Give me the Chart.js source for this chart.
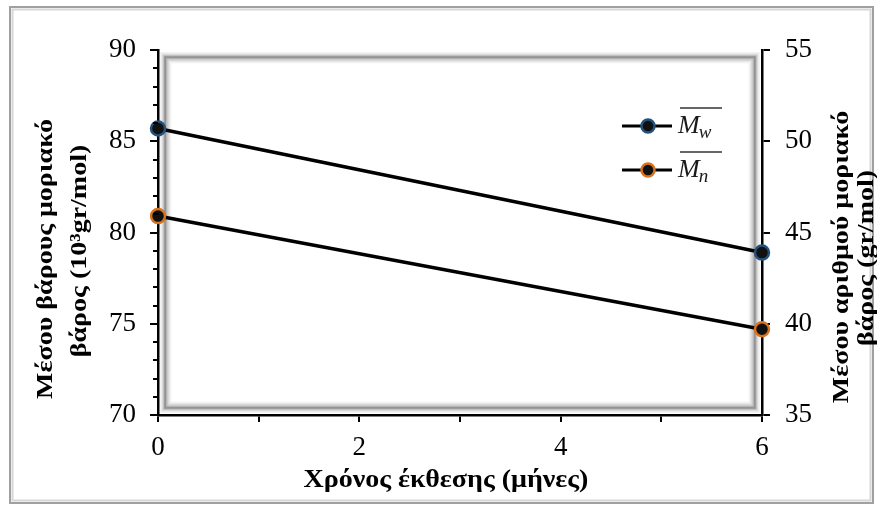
<!DOCTYPE html>
<html>
<head>
<meta charset="utf-8">
<script src="https://cdn.jsdelivr.net/npm/chart.js@4"></script>
<style>
  body { margin: 0; background: #fff; }
  #wrap { width: 877px; height: 508px; }
</style>
</head>
<body>
<div id="wrap"><canvas id="mainChart" width="877" height="508"></canvas></div>
<script>
// data
const months = [0, 6];
const mwValues = [85.7, 78.9];   // left axis, 10^3 gr/mol
const mnValues = [45.9, 39.7];   // right axis, gr/mol
const leftRange = [70, 90];
const rightRange = [35, 55];
const xTitle = 'Χρόνος έκθεσης (μήνες)';
const leftTitle = ['Μέσου βάρους μοριακό', 'βάρος (10³gr/mol)'];
const rightTitle = ['Μέσου αριθμού μοριακό', 'βάρος (gr/mol)'];
const seriesNames = [['M', 'w'], ['M', 'n']];

const serif = "'Liberation Serif', 'Times New Roman', serif";
Chart.defaults.font.family = serif;
Chart.defaults.color = '#000';

const blue = '#24527f';
const orange = '#d7731c';

// frame around the whole picture and the bevel of the plot area
const framePlugin = {
  id: 'frames',
  beforeDraw(chart) {
    const ctx = chart.ctx;
    ctx.save();
    ctx.fillStyle = '#fff';
    ctx.fillRect(0, 0, chart.width, chart.height);
    ctx.lineWidth = 2;
    ctx.strokeStyle = '#a0a0a0';
    ctx.strokeRect(10, 7, 863, 496);
    ctx.lineWidth = 2;
    ctx.strokeStyle = '#d6d6d6';
    ctx.strokeRect(12.5, 9.5, 858, 491);
    ctx.restore();
  },
  beforeDatasetsDraw(chart) {
    const a = chart.chartArea;
    const ctx = chart.ctx;
    const shades = ['#f0f0f0', '#e2e2e2', '#c8c8c8', '#9d9d9d', '#8f8f8f', '#b0b0b0', '#cfcfcf', '#e4e4e4', '#f2f2f2'];
    ctx.save();
    ctx.lineWidth = 1.5;
    shades.forEach((c, i) => {
      const d = 3 + i * 1.2;
      ctx.strokeStyle = c;
      ctx.strokeRect(a.left + d, a.top + d, a.right - a.left - 2 * d, a.bottom - a.top - 2 * d);
    });
    ctx.restore();
  }
};

// minor ticks, axis titles and legend
const extrasPlugin = {
  id: 'extras',
  afterDraw(chart) {
    const ctx = chart.ctx;
    const y = chart.scales.y;
    const x = chart.scales.x;
    ctx.save();
    ctx.strokeStyle = '#000';
    ctx.lineWidth = 2;
    for (let v = leftRange[0] + 1; v < leftRange[1]; v++) {
      if (v % 5 === 0) continue;
      const py = Math.round(y.getPixelForValue(v));
      ctx.beginPath();
      ctx.moveTo(x.left - 5, py);
      ctx.lineTo(x.left, py);
      ctx.stroke();
    }

    ctx.fillStyle = '#000';
    ctx.font = 'bold 28px ' + serif;
    ctx.textAlign = 'center';
    ctx.textBaseline = 'middle';
    ctx.save();
    ctx.translate(446, 481);
    ctx.scale(1, 0.88);
    ctx.fillText(xTitle, 0, 0);
    ctx.restore();

    // rotated titles, glyphs a bit flattened like the original picture
    const drawVertical = (lines, xs, ys) => {
      lines.forEach((t, i) => {
        ctx.save();
        ctx.translate(xs[i], ys[i]);
        ctx.rotate(-Math.PI / 2);
        ctx.scale(1, 0.8);
        ctx.fillText(t, 0, 0);
        ctx.restore();
      });
    };
    drawVertical(leftTitle, [46, 80], [259, 251]);
    drawVertical(rightTitle, [842, 867], [257, 258]);

    // legend
    const rows = [[126, blue], [170, orange]];
    rows.forEach(([ly, col], i) => {
      ctx.strokeStyle = '#000';
      ctx.lineWidth = 3;
      ctx.beginPath();
      ctx.moveTo(622, ly);
      ctx.lineTo(672, ly);
      ctx.stroke();
      ctx.beginPath();
      ctx.arc(648, ly, 6.5, 0, Math.PI * 2);
      ctx.fillStyle = '#111';
      ctx.fill();
      ctx.lineWidth = 2.5;
      ctx.strokeStyle = col;
      ctx.stroke();

      ctx.fillStyle = '#1a1a1a';
      ctx.textAlign = 'left';
      ctx.textBaseline = 'alphabetic';
      ctx.font = 'italic 26px ' + serif;
      ctx.fillText(seriesNames[i][0], 678, ly + 7);
      const mw = ctx.measureText(seriesNames[i][0]).width;
      ctx.font = 'italic 19px ' + serif;
      ctx.fillText(seriesNames[i][1], 678 + mw - 1, ly + 12);
      ctx.strokeStyle = '#333';
      ctx.lineWidth = 1.5;
      ctx.beginPath();
      ctx.moveTo(680, ly - 18);
      ctx.lineTo(722, ly - 18);
      ctx.stroke();
    });
    ctx.restore();
  }
};

const toPoints = vals => vals.map((v, i) => ({ x: months[i], y: v }));

const axisGrid = len => ({ drawOnChartArea: false, tickLength: len, color: '#000', lineWidth: 2 });
const axisBorder = { color: '#000', width: 2.5 };
const tickFont = { size: 27, family: serif };

new Chart(document.getElementById('mainChart').getContext('2d'), {
  type: 'line',
  data: {
    datasets: [
      {
        label: 'Mw',
        data: toPoints(mwValues),
        yAxisID: 'y',
        borderColor: '#000',
        borderWidth: 3.5,
        pointRadius: 7,
        pointBorderWidth: 2.5,
        pointBackgroundColor: '#111',
        pointBorderColor: blue,
        clip: false
      },
      {
        label: 'Mn',
        data: toPoints(mnValues),
        yAxisID: 'y1',
        borderColor: '#000',
        borderWidth: 3.5,
        pointRadius: 7,
        pointBorderWidth: 2.5,
        pointBackgroundColor: '#111',
        pointBorderColor: orange,
        clip: false
      }
    ]
  },
  options: {
    responsive: false,
    animation: false,
    layout: { padding: { top: 50, left: 0, right: 0, bottom: 0 } },
    plugins: { legend: { display: false }, tooltip: { enabled: false } },
    scales: {
      x: {
        type: 'linear',
        min: months[0],
        max: months[months.length - 1],
        grid: axisGrid(7),
        border: axisBorder,
        ticks: {
          stepSize: 1, autoSkip: false, maxRotation: 0, padding: 10,
          font: tickFont, color: '#000',
          callback: v => (v % 2 === 0 ? v : '')
        },
        afterFit: s => { s.height = 93; }
      },
      y: {
        position: 'left',
        min: leftRange[0],
        max: leftRange[1],
        grid: axisGrid(8),
        border: axisBorder,
        ticks: { stepSize: 5, padding: 14, font: tickFont, color: '#000' },
        afterFit: s => { s.width = 158; }
      },
      y1: {
        position: 'right',
        min: rightRange[0],
        max: rightRange[1],
        grid: axisGrid(8),
        border: axisBorder,
        ticks: { stepSize: 5, padding: 15, font: tickFont, color: '#000' },
        afterFit: s => { s.width = 115; }
      }
    }
  },
  plugins: [framePlugin, extrasPlugin]
});
</script>
</body>
</html>
